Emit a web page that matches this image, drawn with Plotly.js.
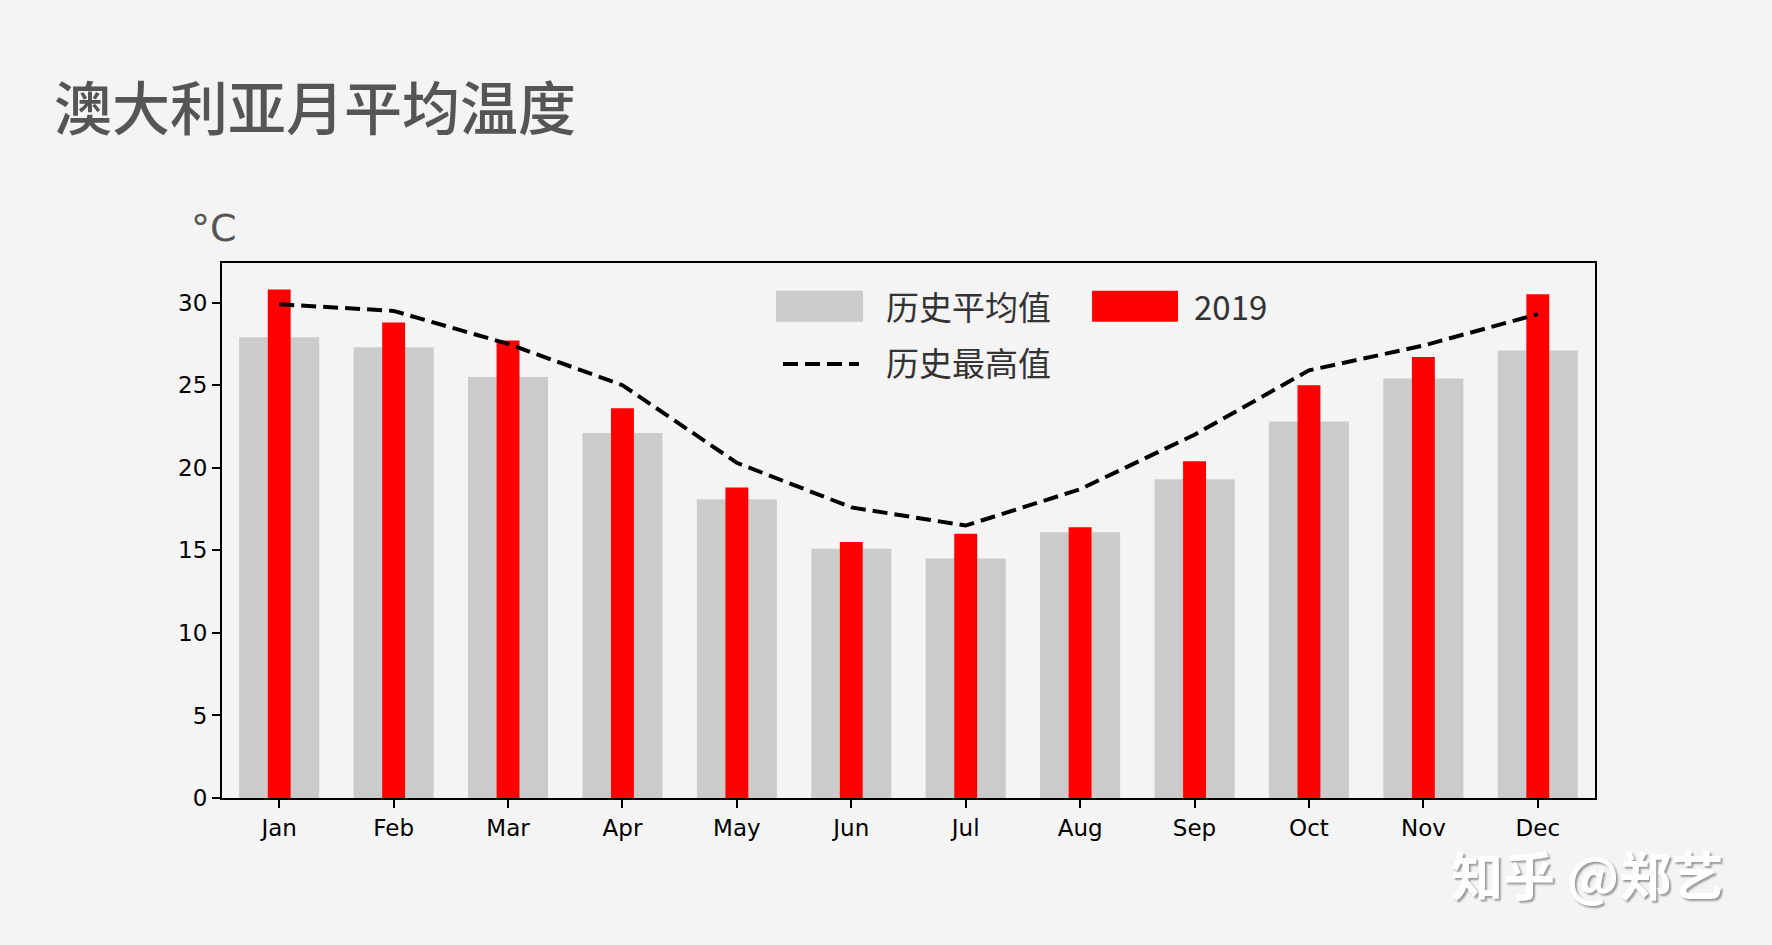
<!DOCTYPE html>
<html>
<head>
<meta charset="utf-8">
<script src="https://cdn.plot.ly/plotly-3.0.1.min.js"></script>
<style>
  body { margin: 0; background: #f4f4f4; }
  #chart { width: 1772px; height: 945px; }
</style>
</head>
<body>
<div id="chart"></div>
<script>
var months = ['Jan', 'Feb', 'Mar', 'Apr', 'May', 'Jun', 'Jul', 'Aug', 'Sep', 'Oct', 'Nov', 'Dec'];
var hist_avg = [27.9, 27.3, 25.5, 22.1, 18.1, 15.1, 14.5, 16.1, 19.3, 22.8, 25.4, 27.1];
var temp_2019 = [30.8, 28.8, 27.7, 23.6, 18.8, 15.5, 16.0, 16.4, 20.4, 25.0, 26.7, 30.5];
var hist_max = [29.9, 29.5, 27.5, 25.0, 20.3, 17.6, 16.5, 18.7, 22.0, 25.9, 27.4, 29.3];

var name_avg = '历史平均值';
var name_2019 = '2019';
var name_max = '历史最高值';

var cjk = '"Noto Sans CJK SC", "Noto Sans", sans-serif';
var dash_style = '15px,7px';

var trace_avg = {
  x: months,
  y: hist_avg,
  name: name_avg,
  type: 'bar',
  width: 0.7,
  marker: {color: '#cbcbcb'}
};

var trace_2019 = {
  x: months,
  y: temp_2019,
  name: name_2019,
  type: 'bar',
  width: 0.2,
  marker: {color: '#ff0000'}
};

var trace_max = {
  x: months,
  y: hist_max,
  name: name_max,
  type: 'scatter',
  mode: 'lines',
  line: {color: '#000000', width: 4, dash: dash_style}
};

var data = [trace_avg, trace_2019, trace_max];

// legend drawn by hand so the swatches can be wide like the original
var legend_shapes = [
  {type: 'rect', xref: 'paper', yref: 'paper', x0: 0.4035, x1: 0.4669, y0: 0.890, y1: 0.948,
   fillcolor: '#cbcbcb', line: {width: 0}},
  {type: 'rect', xref: 'paper', yref: 'paper', x0: 0.6337, x1: 0.6963, y0: 0.890, y1: 0.948,
   fillcolor: '#ff0000', line: {width: 0}},
  {type: 'line', xref: 'paper', yref: 'paper', x0: 0.4086, x1: 0.4639, y0: 0.811, y1: 0.811,
   line: {color: '#000000', width: 4, dash: dash_style}}
];

var legend_labels = [
  {text: name_avg, x: 0.482, y: 0.919},
  {text: name_2019, x: 0.7065, y: 0.919},
  {text: name_max, x: 0.482, y: 0.815}
].map(function (a) {
  return {
    text: a.text, x: a.x, y: a.y, xref: 'paper', yref: 'paper',
    xanchor: 'left', yanchor: 'middle', showarrow: false,
    font: {family: cjk, size: 33, color: '#333333'}
  };
});

var layout = {
  width: 1772,
  height: 945,
  paper_bgcolor: '#f4f4f4',
  plot_bgcolor: '#f4f4f4',
  barmode: 'overlay',
  showlegend: false,
  margin: {l: 222, r: 177, t: 263, b: 147},
  title: {
    text: '澳大利亚月平均温度',
    x: 0.0305, xanchor: 'left',
    y: 0.884, yanchor: 'middle',
    font: {family: cjk, size: 58, weight: 500, color: '#555555'}
  },
  xaxis: {
    type: 'category',
    range: [-0.5, 11.5],
    showgrid: false,
    zeroline: false,
    showline: true, mirror: true, linecolor: '#000000', linewidth: 2,
    ticks: 'outside', ticklen: 8, tickwidth: 2, tickcolor: '#000000',
    tickfont: {family: 'DejaVu Sans', size: 23, color: '#000000'}
  },
  yaxis: {
    range: [0, 32.4],
    tickvals: [0, 5, 10, 15, 20, 25, 30],
    showgrid: false,
    zeroline: false,
    showline: true, mirror: true, linecolor: '#000000', linewidth: 2,
    ticks: 'outside', ticklen: 8, tickwidth: 2, tickcolor: '#000000',
    tickfont: {family: 'DejaVu Sans', size: 23, color: '#000000'}
  },
  shapes: legend_shapes,
  annotations: legend_labels.concat([
    {text: '°C', x: -0.024, y: 1.065, xref: 'paper', yref: 'paper',
     xanchor: 'left', yanchor: 'middle', showarrow: false,
     font: {family: 'DejaVu Sans', size: 38, color: '#555555'}},
    {text: '知乎 @郑艺', x: 0.894, y: -0.142, xref: 'paper', yref: 'paper',
     xanchor: 'left', yanchor: 'middle', showarrow: false,
     font: {family: cjk, size: 52, weight: 700, color: '#ffffff', shadow: '2px 2px 2px #9a9a9a'}}
  ])
};

Plotly.newPlot('chart', data, layout, {displayModeBar: false});
</script>
</body>
</html>
